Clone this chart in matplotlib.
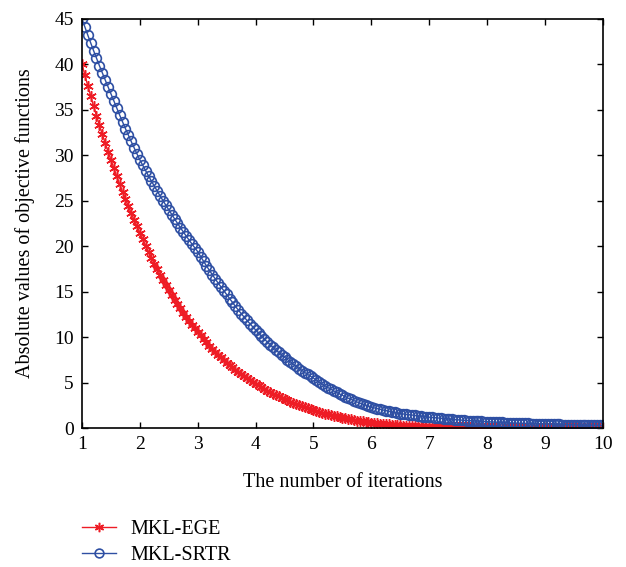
import numpy as np
import matplotlib
matplotlib.use('Agg')
import matplotlib.pyplot as plt

# ── Data (one sample every 0.05 iterations) ──────────────────────────────────
mkl_ege = [
    40.00, 38.80, 37.64, 36.51, 35.41, 34.35, 33.32, 32.32, 31.35, 30.41,
    29.50, 28.58, 27.69, 26.83, 25.99, 25.18, 24.40, 23.64, 22.90, 22.19,
    21.50, 20.77, 20.06, 19.37, 18.71, 18.08, 17.46, 16.87, 16.29, 15.74,
    15.20, 14.66, 14.14, 13.64, 13.16, 12.69, 12.24, 11.81, 11.39, 10.99,
    10.60, 10.20, 9.81, 9.44, 9.08, 8.74, 8.40, 8.09, 7.78, 7.48,
    7.20, 6.93, 6.67, 6.41, 6.17, 5.94, 5.71, 5.50, 5.29, 5.09,
    4.90, 4.70, 4.50, 4.31, 4.13, 3.96, 3.79, 3.64, 3.48, 3.34,
    3.20, 3.05, 2.91, 2.78, 2.65, 2.53, 2.41, 2.30, 2.20, 2.10,
    2.00, 1.89, 1.79, 1.69, 1.60, 1.52, 1.43, 1.36, 1.28, 1.21,
    1.15, 1.08, 1.01, 0.95, 0.89, 0.83, 0.78, 0.73, 0.68, 0.64,
    0.60, 0.56, 0.52, 0.49, 0.45, 0.42, 0.40, 0.37, 0.34, 0.32,
    0.30, 0.28, 0.26, 0.24, 0.23, 0.21, 0.20, 0.19, 0.17, 0.16,
    0.15, 0.14, 0.13, 0.13, 0.12, 0.11, 0.10, 0.10, 0.09, 0.09,
    0.08, 0.08, 0.07, 0.07, 0.07, 0.06, 0.06, 0.06, 0.06, 0.05,
    0.05, 0.05, 0.05, 0.05, 0.04, 0.04, 0.04, 0.04, 0.04, 0.04,
    0.04, 0.04, 0.04, 0.03, 0.03, 0.03, 0.03, 0.03, 0.03, 0.03,
    0.03, 0.03, 0.03, 0.03, 0.03, 0.02, 0.02, 0.02, 0.02, 0.02,
    0.02, 0.02, 0.02, 0.02, 0.02, 0.02, 0.02, 0.02, 0.02, 0.02,
    0.02,
]

mkl_srtr = [
    45.00, 44.10, 43.23, 42.37, 41.52, 40.69, 39.88, 39.09, 38.31, 37.55,
    36.80, 36.00, 35.21, 34.44, 33.69, 32.95, 32.23, 31.53, 30.84, 30.16,
    29.50, 28.90, 28.31, 27.73, 27.16, 26.61, 26.06, 25.53, 25.01, 24.50,
    24.00, 23.49, 23.00, 22.52, 22.04, 21.58, 21.12, 20.68, 20.24, 19.82,
    19.40, 18.87, 18.35, 17.85, 17.36, 16.89, 16.42, 15.97, 15.54, 15.11,
    14.70, 14.25, 13.82, 13.40, 13.00, 12.60, 12.22, 11.85, 11.49, 11.14,
    10.80, 10.45, 10.12, 9.80, 9.48, 9.18, 8.88, 8.60, 8.32, 8.06,
    7.80, 7.53, 7.27, 7.02, 6.78, 6.55, 6.33, 6.11, 5.90, 5.70,
    5.50, 5.27, 5.05, 4.84, 4.64, 4.45, 4.27, 4.09, 3.92, 3.76,
    3.60, 3.44, 3.29, 3.15, 3.01, 2.88, 2.75, 2.63, 2.52, 2.41,
    2.30, 2.22, 2.14, 2.06, 1.99, 1.92, 1.85, 1.78, 1.72, 1.66,
    1.60, 1.55, 1.51, 1.47, 1.43, 1.39, 1.35, 1.31, 1.27, 1.24,
    1.20, 1.17, 1.13, 1.10, 1.07, 1.04, 1.01, 0.98, 0.95, 0.93,
    0.90, 0.88, 0.86, 0.83, 0.81, 0.79, 0.77, 0.75, 0.74, 0.72,
    0.70, 0.68, 0.67, 0.65, 0.64, 0.62, 0.61, 0.59, 0.58, 0.56,
    0.55, 0.54, 0.53, 0.52, 0.51, 0.50, 0.49, 0.48, 0.47, 0.46,
    0.45, 0.44, 0.43, 0.42, 0.41, 0.40, 0.39, 0.38, 0.37, 0.36,
    0.35, 0.34, 0.34, 0.33, 0.33, 0.32, 0.32, 0.31, 0.31, 0.30,
    0.30,
]

# sampling grid of the iteration axis
iterations = np.linspace(1, 10, len(mkl_srtr))

x_ticks = [1, 2, 3, 4, 5, 6, 7, 8, 9, 10]
y_ticks = [0, 5, 10, 15, 20, 25, 30, 35, 40, 45]

# ── Styling ──────────────────────────────────────────────────────────────────
red = "#ee1c25"
blue = "#2e4fa3"
tick_fs = 14
label_fs = 14.5

plt.rcParams['font.family'] = ['Liberation Serif', 'DejaVu Serif']
plt.rcParams['xtick.direction'] = 'in'
plt.rcParams['ytick.direction'] = 'in'

fig = plt.figure(figsize=(6.26, 5.67), dpi=100)
ax = fig.add_axes([0.131, 0.245, 0.832, 0.7215])

asterisk = (6, 2, 0)
ax.plot(iterations, mkl_ege, color=red, linewidth=1.0, marker=asterisk,
        markersize=7.5, markeredgewidth=1.1, label="MKL-EGE")
ax.plot(iterations, mkl_srtr, color=blue, linewidth=1.0, marker='o',
        markersize=7, markerfacecolor='none', markeredgewidth=1.2,
        label="MKL-SRTR")

ax.set_xlim(1, 10)
ax.set_ylim(0, 45)
ax.set_xticks(x_ticks)
ax.set_yticks(y_ticks)
ax.tick_params(axis='both', which='both', top=True, right=True, length=4,
               width=1.0, labelsize=tick_fs, pad=6)
for sp in ax.spines.values():
    sp.set_linewidth(1.2)

ax.set_xlabel("The number of iterations", fontsize=label_fs, labelpad=14)
ax.set_ylabel("Absolute values of objective functions", fontsize=label_fs, labelpad=14)

handles, labels = ax.get_legend_handles_labels()
fig.legend(handles, labels, loc='upper left', bbox_to_anchor=(0.131, 0.083),
           frameon=False, fontsize=label_fs, handlelength=1.7, handletextpad=0.7,
           labelspacing=0.36, borderpad=0, borderaxespad=0, markerscale=0.9)

fig.savefig("out.png", dpi=100)
